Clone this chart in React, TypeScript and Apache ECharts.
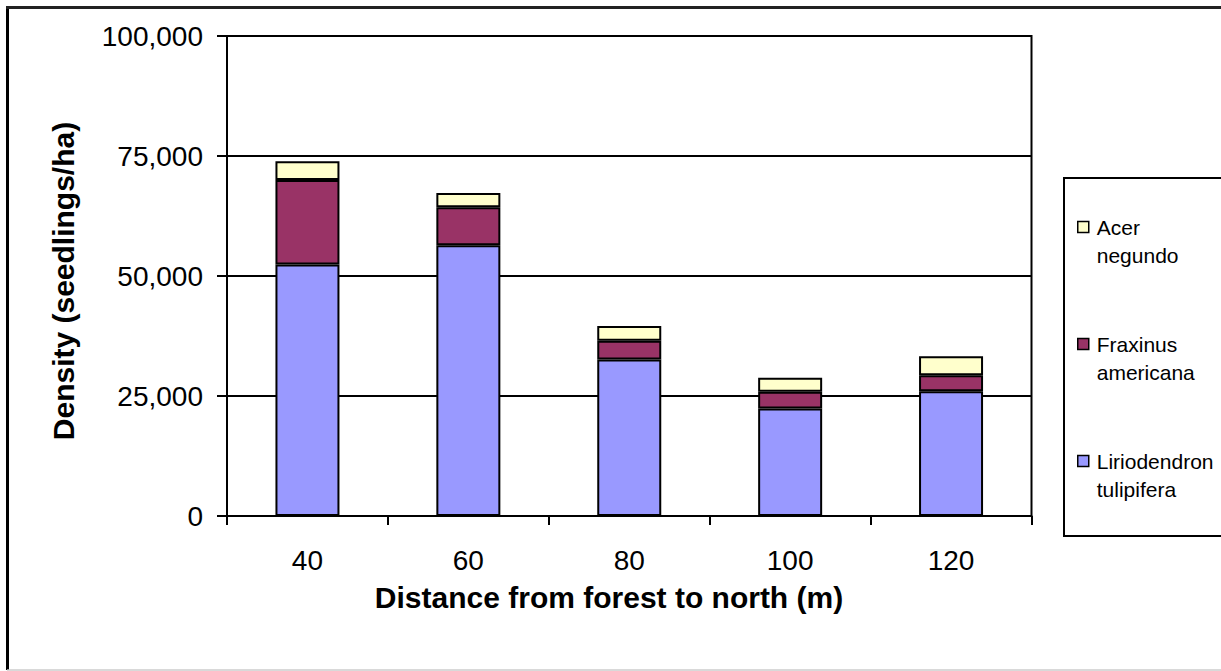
import React, { useEffect, useRef } from "react";
import * as echarts from "echarts";

const categories = ["40", "60", "80", "100", "120"];
const liriodendron = [52400, 56400, 32600, 22400, 26000];
const fraxinus = [17600, 7900, 3900, 3500, 3300];
const acer = [3900, 3000, 3100, 2900, 4000];
const seriesNames = ["Liriodendron tulipifera", "Fraxinus americana", "Acer negundo"];
const legendOrder = ["Acer negundo", "Fraxinus americana", "Liriodendron tulipifera"];
const colors = ["#9999FF", "#993366", "#FFFFCC"];
const xTitle = "Distance from forest to north (m)";
const yTitle = "Density (seedlings/ha)";

const FONT = "'Liberation Sans', Arial, sans-serif";

export default function App() {
  const ref = useRef<HTMLDivElement>(null);
  useEffect(() => {
    document.body.style.margin = "0";
    const chart = echarts.init(ref.current!, null, { renderer: "svg" });
    const values = [liriodendron, fraxinus, acer];
    chart.setOption({
      animation: false,
      backgroundColor: "#ffffff",
      textStyle: { fontFamily: FONT },
      grid: {
        left: 227,
        top: 36,
        right: 189.5,
        bottom: 155,
        show: true,
        borderColor: "#000",
        borderWidth: 2,
        backgroundColor: "transparent",
      },
      legend: {
        orient: "vertical",
        left: 1077,
        top: 185,
        padding: 0,
        itemGap: 33,
        itemWidth: 11,
        itemHeight: 11,
        icon: "rect",
        data: legendOrder,
        formatter: (name: string) => " \n" + name.replace(" ", "\n"),
        itemStyle: { borderColor: "#000", borderWidth: 1.5 },
        textStyle: {
          fontFamily: FONT,
          fontSize: 21,
          lineHeight: 28,
          color: "#000",
          padding: [0, 0, 0, 3],
        },
      },
      xAxis: {
        type: "category",
        data: categories,
        axisLine: { show: true, lineStyle: { color: "#000", width: 2 } },
        axisTick: { show: true, length: 9, lineStyle: { color: "#000", width: 2 } },
        axisLabel: { margin: 30, fontSize: 28, color: "#000", fontFamily: FONT },
      },
      yAxis: {
        type: "value",
        min: 0,
        max: 100000,
        interval: 25000,
        axisLine: { show: true, lineStyle: { color: "#000", width: 2 } },
        axisTick: { show: true, length: 10, lineStyle: { color: "#000", width: 2 } },
        splitLine: { show: true, lineStyle: { color: "#000", width: 2 } },
        axisLabel: {
          margin: 24,
          fontSize: 28,
          color: "#000",
          fontFamily: FONT,
          formatter: (v: number) => v.toLocaleString("en-US"),
        },
      },
      series: seriesNames.map((name, i) => ({
        name,
        type: "bar",
        stack: "total",
        barWidth: 64,
        data: values[i],
        itemStyle: { color: colors[i], borderColor: "#000", borderWidth: 2 },
      })),
      graphic: [
        {
          type: "line",
          shape: { x1: 7.5, y1: 6, x2: 7.5, y2: 670 },
          style: { stroke: "#000", lineWidth: 3 },
        },
        {
          type: "line",
          shape: { x1: 6, y1: 7.5, x2: 1221, y2: 7.5 },
          style: { stroke: "#222", lineWidth: 3 },
        },
        {
          type: "line",
          shape: { x1: 7, y1: 670, x2: 1221, y2: 670 },
          style: { stroke: "#cccccc", lineWidth: 1.5 },
        },
        {
          type: "rect",
          shape: { x: 1064, y: 178, width: 200, height: 358 },
          style: { fill: "none", stroke: "#000", lineWidth: 2 },
        },
        {
          type: "text",
          x: 63,
          y: 281,
          rotation: Math.PI / 2,
          style: {
            text: yTitle,
            font: `bold 30px ${FONT}`,
            fill: "#000",
            align: "center",
            verticalAlign: "middle",
          },
        },
        {
          type: "text",
          x: 609,
          y: 597,
          style: {
            text: xTitle,
            font: `bold 30px ${FONT}`,
            fill: "#000",
            align: "center",
            verticalAlign: "middle",
          },
        },
      ],
    });
    return () => chart.dispose();
  }, []);
  return <div ref={ref} style={{ width: 1221, height: 671 }} />;
}
